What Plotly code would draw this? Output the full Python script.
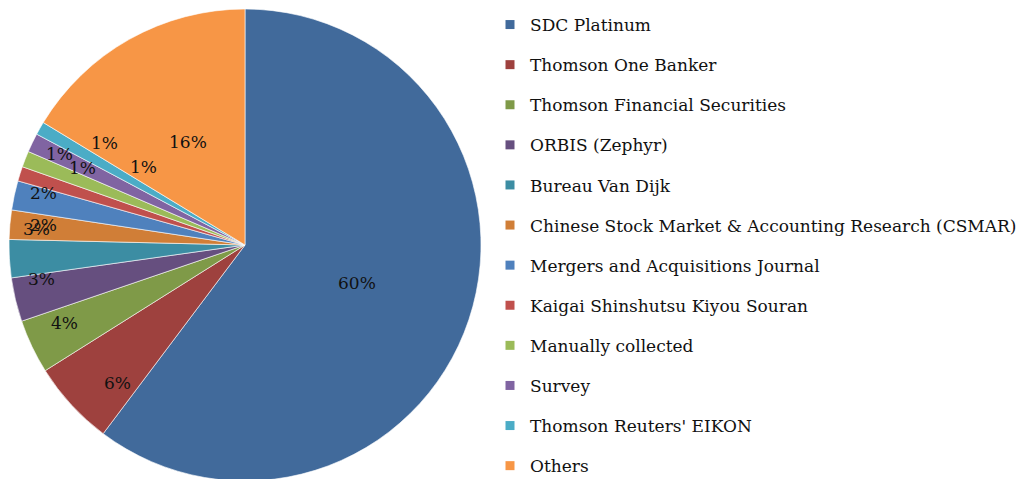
import math
import plotly.graph_objects as go

# Data sources used in the reviewed studies (share of studies, %)
sources = [
    "SDC Platinum",
    "Thomson One Banker",
    "Thomson Financial Securities",
    "ORBIS (Zephyr)",
    "Bureau Van Dijk",
    "Chinese Stock Market & Accounting Research (CSMAR)",
    "Mergers and Acquisitions Journal",
    "Kaigai Shinshutsu Kiyou Souran",
    "Manually collected",
    "Survey",
    "Thomson Reuters' EIKON",
    "Others",
]
shares = [60.2, 5.8, 3.7, 3.0, 2.6, 2.0, 2.0, 1.0, 1.1, 1.3, 0.9, 16.3]
colors = [
    "#416A9B", "#9E413E", "#7F9A48", "#664F7F", "#3C8DA3", "#D07E37",
    "#4F81BD", "#C0504D", "#9BBB59", "#8064A2", "#4BACC6", "#F79646",
]

# label placement (radius as fraction of pie radius, angular nudge in degrees)
label_radius = [0.50, 0.795, 0.833, 0.873, 0.888, 0.856, 0.884, 0.875, 0.763, 0.736, 0.542, 0.50]
label_nudge = [0.4, -4.6, 2.0, 4.0, 7.7, 0.6, 2.4, 8.5, 3.9, 10.4, 7.8, 0.4]

# figure is a bit taller than the 479px window: the pie bottom is cut like in the source
W, H = 1026, 490
FONT = "DejaVu Serif"
cx, cy, r = 245, 245, 236

fig = go.Figure()

fig.add_trace(go.Pie(
    labels=sources,
    values=shares,
    sort=False,
    direction="clockwise",
    rotation=0,
    textinfo="none",
    hoverinfo="label+percent",
    marker=dict(colors=colors, line=dict(color="white", width=0.6)),
    showlegend=False,
    domain=dict(x=[(cx - r) / W, (cx + r) / W], y=[(H - cy - r) / H, (H - cy + r) / H]),
))

# percentage labels, placed at each slice's mid angle
total = sum(shares)
start = 0.0
for v, f, nudge in zip(shares, label_radius, label_nudge):
    mid = math.radians(360 * (start + v / 2) / total + nudge)
    start += v
    px = cx + r * f * math.sin(mid)
    py = cy - r * f * math.cos(mid)
    fig.add_annotation(
        x=px / W, y=(H - py) / H, xref="paper", yref="paper",
        xanchor="center", yanchor="middle",
        text=f"{round(100 * v / total)}%", showarrow=False,
        font=dict(family=FONT, size=17, color="#111111"),
    )

# legend entries (one per source so the spacing can be set)
for name, c in zip(sources, colors):
    fig.add_trace(go.Scatter(
        x=[None], y=[None], mode="markers", name=name, legendgroup=name,
        marker=dict(symbol="square", size=9, color=c),
    ))

fig.update_layout(
    width=W, height=H,
    margin=dict(l=0, r=0, t=0, b=0),
    paper_bgcolor="white",
    plot_bgcolor="white",
    xaxis=dict(visible=False),
    yaxis=dict(visible=False),
    legend=dict(
        x=490 / W, y=1 - 7 / H, xanchor="left", yanchor="top",
        font=dict(family=FONT, size=17, color="#111111"),
        tracegroupgap=15, itemwidth=30, maxheight=700,
        bgcolor="rgba(0,0,0,0)",
    ),
)

fig.write_html(
    "out.html",
    config={"displayModeBar": False},
    post_script=(
        "document.body.style.margin='0';"
        "document.body.style.overflow='hidden';"
        "document.documentElement.style.overflow='hidden';"
    ),
)
